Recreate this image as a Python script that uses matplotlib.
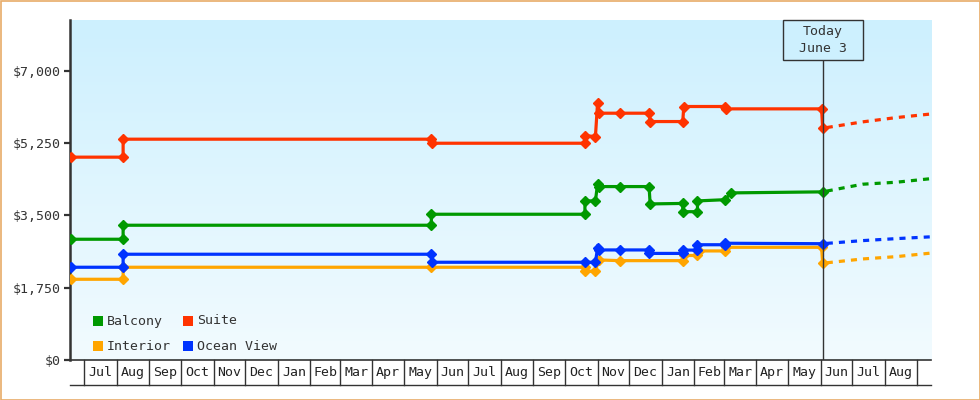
import datetime as dt
import numpy as np
import matplotlib
matplotlib.use("Agg")
import matplotlib.pyplot as plt
import matplotlib.dates as mdates
import matplotlib.transforms as mtransforms
from matplotlib.patches import Rectangle

# ---- data ----
suite_dates = ["2017-06-18", "2017-08-07", "2017-08-07", "2018-05-27", "2018-05-28",
               "2018-10-20", "2018-10-20", "2018-10-30", "2018-11-01", "2018-11-02",
               "2018-11-22", "2018-12-20", "2018-12-21", "2019-01-21", "2019-01-22",
               "2019-03-02", "2019-03-03", "2019-06-02", "2019-06-03"]
suite_vals = [4910, 4910, 5345, 5345, 5247,
              5247, 5430, 5410, 6217, 5974,
              5974, 5974, 5772, 5772, 6136,
              6136, 6079, 6079, 5611]

balcony_dates = ["2017-06-18", "2017-08-07", "2017-08-07", "2018-05-27", "2018-05-27",
                 "2018-10-20", "2018-10-20", "2018-10-30", "2018-11-01", "2018-11-02",
                 "2018-11-22", "2018-12-20", "2018-12-21", "2019-01-21", "2019-01-21",
                 "2019-02-04", "2019-02-04", "2019-03-02", "2019-03-08", "2019-06-03"]
balcony_vals = [2923, 2923, 3262, 3262, 3528,
                3528, 3851, 3851, 4255, 4198,
                4198, 4198, 3778, 3790, 3590,
                3590, 3851, 3880, 4045, 4070]

ocean_dates = ["2017-06-18", "2017-08-07", "2017-08-07", "2018-05-27", "2018-05-28",
               "2018-10-20", "2018-10-30", "2018-11-01", "2018-11-02", "2018-11-22",
               "2018-12-20", "2018-12-20", "2019-01-21", "2019-01-21", "2019-02-04",
               "2019-02-04", "2019-03-02", "2019-03-02", "2019-06-03"]
ocean_vals = [2245, 2245, 2560, 2560, 2366,
              2366, 2366, 2705, 2664, 2664,
              2664, 2580, 2580, 2660, 2660,
              2790, 2790, 2826, 2815]

interior_dates = ["2017-06-18", "2017-08-07", "2017-08-07", "2018-05-27", "2018-10-20",
                  "2018-10-20", "2018-10-30", "2018-11-02", "2018-11-22", "2019-01-21",
                  "2019-01-22", "2019-02-04", "2019-02-05", "2019-03-02", "2019-03-03",
                  "2019-06-02", "2019-06-03"]
interior_vals = [1954, 1954, 2245, 2245, 2245,
                 2150, 2150, 2422, 2405, 2405,
                 2530, 2530, 2640, 2640, 2728,
                 2728, 2342]

forecast_dates = ["2019-06-03", "2019-07-11", "2019-08-12", "2019-09-14"]
suite_fc = [5611, 5764, 5868, 5955]
balcony_fc = [4070, 4255, 4303, 4390]
ocean_fc = [2815, 2890, 2938, 2982]
interior_fc = [2342, 2446, 2502, 2588]

y_ticks = [0, 1750, 3500, 5250, 7000]
today = "2019-06-03"
today_label = "Today\nJune 3"

colors = {"Balcony": "#009900", "Suite": "#ff3300",
          "Interior": "#ffa500", "Ocean View": "#0033ff"}

FONT = "DejaVu Sans Mono"
INK = "#333333"


def to_dates(lst):
    return [dt.datetime.strptime(s, "%Y-%m-%d") for s in lst]


W, H = 980, 400
fig = plt.figure(figsize=(W / 100, H / 100), dpi=100)
fig.patch.set_facecolor("white")

L, R, T, B = 70, 931, 20, 360
ax = fig.add_axes([L / W, 1 - B / H, (R - L) / W, (B - T) / H])

x0 = dt.datetime(2017, 6, 17, 12)
x1 = dt.datetime(2019, 9, 14)
ymax = 8230

# gradient background
grad = np.linspace(0, 1, 256).reshape(-1, 1)
top_c = np.array([205, 240, 254]) / 255
bot_c = np.array([242, 251, 255]) / 255
img = top_c * (1 - grad[..., None]) + bot_c * grad[..., None]
img = img.reshape(256, 1, 3)
ax.imshow(img, extent=[0, 1, 0, 1], transform=ax.transAxes, aspect="auto", zorder=0)

series = [("Interior", interior_dates, interior_vals, interior_fc),
          ("Ocean View", ocean_dates, ocean_vals, ocean_fc),
          ("Balcony", balcony_dates, balcony_vals, balcony_fc),
          ("Suite", suite_dates, suite_vals, suite_fc)]

fc_d = to_dates(forecast_dates)
for name, ds, vs, fc in series:
    c = colors[name]
    ax.plot(to_dates(ds), vs, color=c, lw=2.3, marker="D", ms=5.2,
            solid_joinstyle="miter", zorder=3)
    ax.plot(fc_d, fc, color=c, lw=2.3, linestyle=(2.5, (1.9, 1.9)), zorder=3)

ax.set_xlim(x0, x1)
ax.set_ylim(0, ymax)

# axes styling
for s in ["top", "right"]:
    ax.spines[s].set_visible(False)
ax.spines["left"].set_linewidth(1.8)
ax.spines["left"].set_color(INK)
ax.spines["bottom"].set_linewidth(1.2)
ax.spines["bottom"].set_color(INK)
ax.set_yticks(y_ticks)
ax.set_yticklabels(["${:,}".format(v) for v in y_ticks], fontfamily=FONT,
                   fontsize=9.5, color=INK)
ax.tick_params(axis="y", length=4, width=1.6, color=INK, pad=3)
ax.set_xticks([])

# month band under the axis
band_h = 25 / (B - T)
trans = mtransforms.blended_transform_factory(ax.transData, ax.transAxes)
ax.plot([0, 1], [-band_h, -band_h], transform=ax.transAxes, color=INK,
        lw=1, clip_on=False)
months = []
m = dt.datetime(2017, 7, 1)
while m <= dt.datetime(2019, 9, 1):
    months.append(m)
    m = dt.datetime(m.year + (m.month // 12), m.month % 12 + 1, 1)
for m in months:
    ax.plot([m, m], [0, -band_h], transform=trans, color=INK, lw=1, clip_on=False)
for a, b in zip(months[:-1], months[1:]):
    mid = a + (b - a) / 2
    ax.text(mid, -band_h / 2, a.strftime("%b"), transform=trans, ha="center",
            va="center", fontfamily=FONT, fontsize=9.5, color="#222222")

# today marker
td = dt.datetime.strptime(today, "%Y-%m-%d")
box_h = 40 / (B - T)
ax.plot([td, td], [0, 1 - box_h], transform=trans, color=INK, lw=1, zorder=4)
half = dt.timedelta(days=38)
ax.add_patch(Rectangle((mdates.date2num(td - half), 1 - box_h),
                       mdates.date2num(td + half) - mdates.date2num(td - half),
                       box_h, transform=trans, facecolor="#cdf0fe",
                       edgecolor=INK, lw=1, zorder=5, clip_on=False))
ax.text(td, 1 - box_h / 2, today_label, transform=trans, ha="center", va="center",
        fontfamily=FONT, fontsize=9.5, color=INK, linespacing=1.45, zorder=6)

# legend, placed by hand
legend_items = [("Balcony", 93, 316), ("Suite", 183, 316),
                ("Interior", 93, 341), ("Ocean View", 183, 341)]
for name, px, py in legend_items:
    fig.add_artist(Rectangle((px / W, 1 - (py + 10) / H), 10 / W, 10 / H,
                             transform=fig.transFigure, facecolor=colors[name],
                             edgecolor="none"))
    fig.text((px + 14) / W, 1 - (py + 5) / H, name, ha="left", va="center",
             fontfamily=FONT, fontsize=9.5, color=INK)

# outer border
fig.add_artist(Rectangle((0.5 / W, 0.5 / H), 1 - 1 / W, 1 - 1 / H,
                         transform=fig.transFigure, facecolor="none",
                         edgecolor="#e8ac68", lw=1.2))

fig.savefig("out.png", dpi=100)
